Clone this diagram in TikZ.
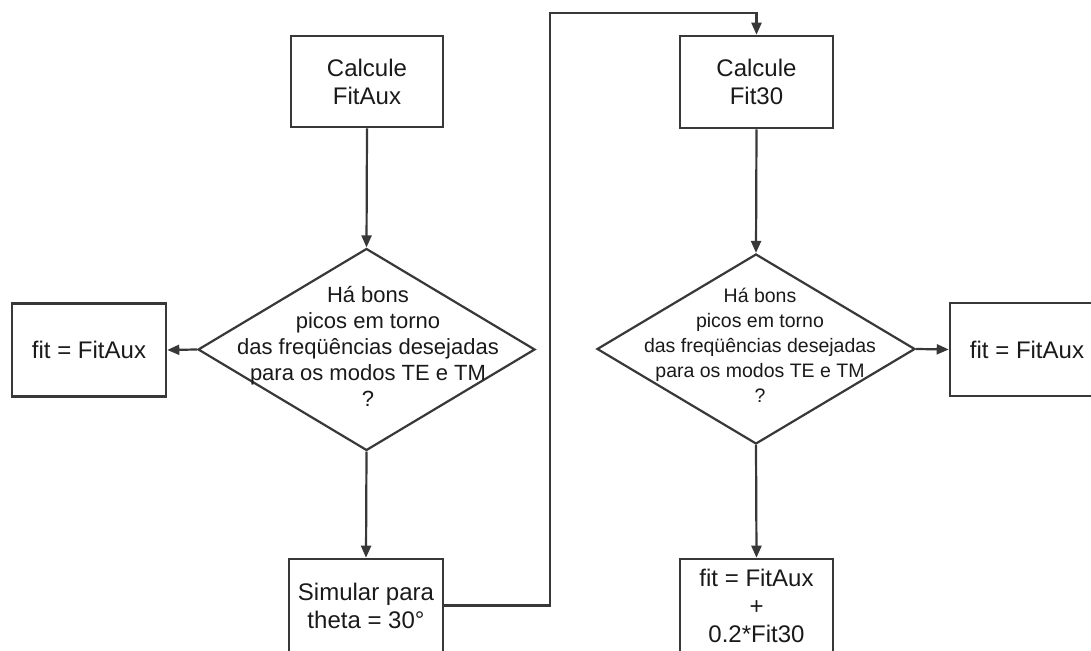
\documentclass[tikz,border=0pt]{standalone}
\usepackage{fontspec}
\setmainfont{Liberation Sans}
\usetikzlibrary{arrows.meta,shapes.geometric}
\definecolor{ink}{HTML}{1A1A1A}
\definecolor{edge}{HTML}{383838}
\begin{document}
\begin{tikzpicture}[x=1pt,y=1pt,
  procbox/.style={draw=edge, line width=2.6pt, fill=white, inner sep=0pt,
    minimum width=153pt, minimum height=92pt, align=center, text=ink,
    font=\fontsize{24}{28}\selectfont},
  decide/.style={draw=edge, line width=2.2pt, diamond, inner sep=0pt},
  decidetext/.style={align=center, text=ink, inner sep=0pt},
  flow/.style={draw=edge, line width=2.2pt, -{Triangle[length=12pt,width=10pt]}}]
\useasboundingbox (0,0) rectangle (1091,650);
\clip (0,0) rectangle (1091,650);
\fill[white] (0,0) rectangle (1091,650);

% left column
\node[procbox, minimum width=152pt, minimum height=91pt] (calcaux) at (367,568.5) {Calcule\\FitAux};
\node[decide, minimum width=337pt, minimum height=202pt] (q1) at (366.5,300.5) {};
\node[decidetext, font=\fontsize{22}{26}\selectfont] (q1txt) at (368,304)
  {Há bons\\picos em torno\\das freqüências desejadas\\para os modos TE e TM\\?};
\node[procbox, minimum width=154pt, minimum height=93pt] (fitl) at (89,300) {fit = FitAux};
\node[procbox, minimum width=154pt, minimum height=93pt] (sim) at (366,44.5) {Simular para\\theta = 30°};

% right column
\node[procbox] (calc30) at (756.5,568) {Calcule\\Fit30};
\node[decide, minimum width=318pt, minimum height=190pt] (q2) at (756,301) {};
\node[decidetext, font=\fontsize{19.5}{25}\selectfont] (q2txt) at (760,305)
  {Há bons\\picos em torno\\das freqüências desejadas\\para os modos TE e TM\\?};
\node[procbox, minimum width=154pt, minimum height=93pt] (fitr) at (1027,300.5) {fit = FitAux};
\node[procbox, minimum width=153pt, minimum height=93pt] (fitsum) at (756.5,44.5) {fit = FitAux\\+\\0.2*Fit30};

% connectors
\coordinate (loop) at (550,637);
\draw[flow] (calcaux.south) -- (q1.north);
\draw[flow] (q1.west) -- (fitl.east);
\draw[flow] (q1.south) -- (sim.north);
\draw[flow] (sim.east) -| (loop) -| (calc30.north);
\draw[flow] (calc30.south) -- (q2.north);
\draw[flow] (q2.east) -- (fitr.west);
\draw[flow] (q2.south) -- (fitsum.north);
\end{tikzpicture}
\end{document}
